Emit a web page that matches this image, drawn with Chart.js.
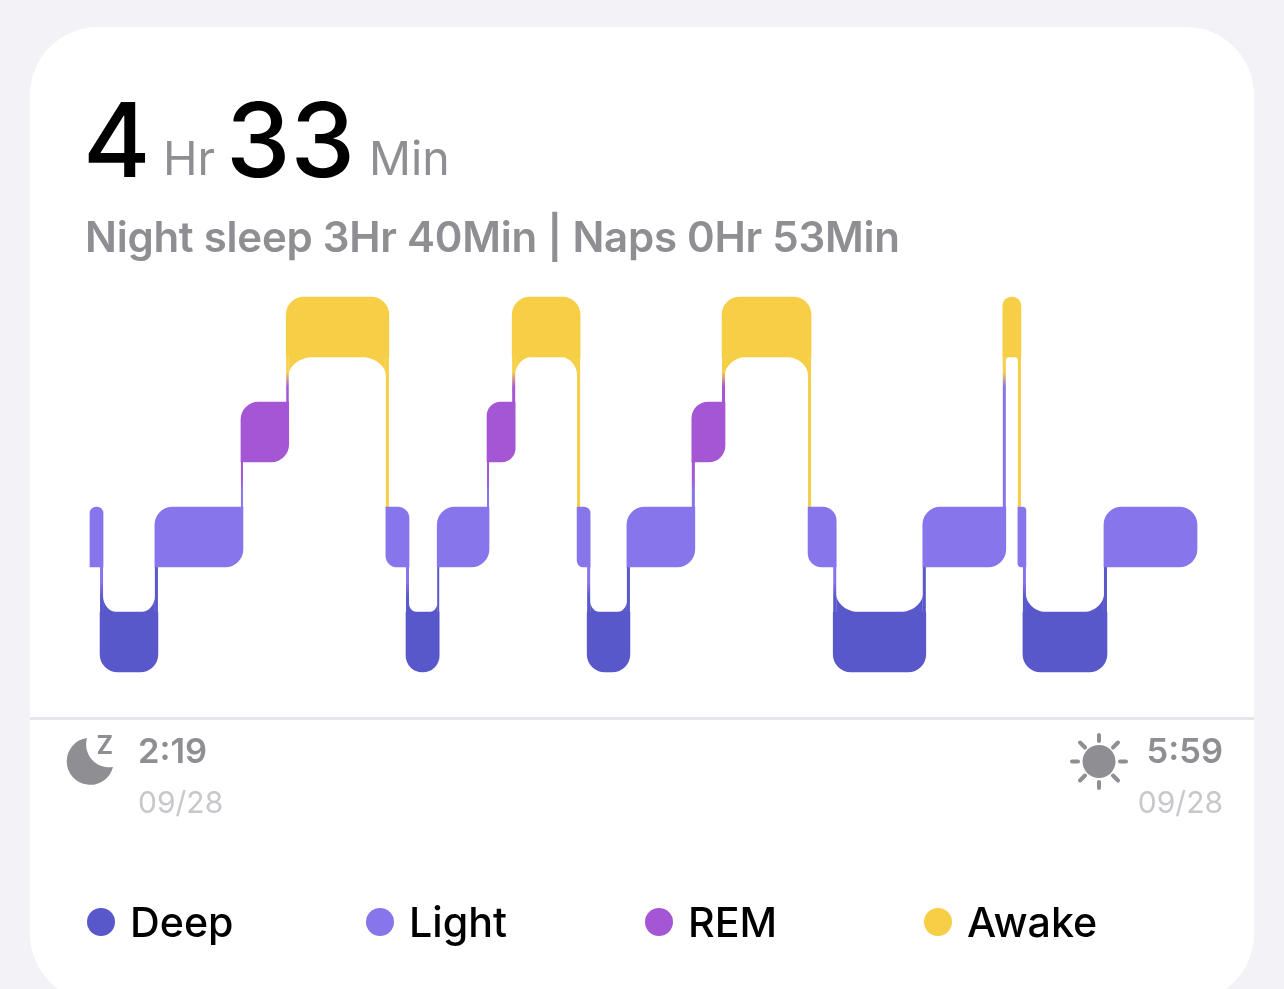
<!DOCTYPE html>
<html>
<head>
<meta charset="utf-8">
<script src="https://cdn.jsdelivr.net/npm/chart.js@4/dist/chart.umd.js"></script>
<style>
html, body { margin: 0; width: 1284px; height: 989px; overflow: hidden; background: #f2f2f7; font-family: Inter, "Noto Sans", sans-serif; }
#card { position: absolute; left: 30px; top: 27px; width: 1224px; height: 975px; background: #fff; border-radius: 68px; }
#chart { position: absolute; left: 30px; top: 0; }
.t { position: absolute; white-space: nowrap; line-height: 1; }
.big { font-size: 103px; font-weight: 500; color: #000; top: 88px; }
.unit { font-size: 46.5px; color: #8e8e93; top: 135px; }
#sub { left: 85px; top: 216px; font-size: 42px; font-weight: 600; color: #8e8e93; letter-spacing: -0.25px; }
.clock { font-size: 34.5px; font-weight: 600; color: #8e8e93; top: 734px; }
.date { font-size: 30px; color: #c7c7cc; top: 787px; }
.dot { position: absolute; top: 908px; width: 28px; height: 28px; border-radius: 50%; }
.lab { font-size: 41.200px; font-weight: 500; color: #000; top: 902px; }
svg { position: absolute; left: 0; top: 0; }
</style>
</head>
<body>
<div id="card"></div>
<canvas id="chart" width="1224" height="730"></canvas>

<div class="t big" style="left:83px">4</div>
<div class="t unit" style="left:163px">Hr</div>
<div class="t big" style="left:226px">33</div>
<div class="t unit" style="left:369px">Min</div>
<div class="t" id="sub">Night sleep 3Hr 40Min | Naps 0Hr 53Min</div>

<svg width="1284" height="989">
  <path d="M87 738A23.500 23.500 0 1 0 113 767A23 23 0 0 1 87 738Z" fill="#8e8e93"/>
  <text x="96.500" y="754" font-family="Inter" font-size="25" font-weight="700" fill="#8e8e93">Z</text>
  <circle cx="1099" cy="761.500" r="16.500" fill="#8e8e93"/>
  <g stroke="#8e8e93" stroke-width="4" stroke-linecap="round">
    <path d="M1099 735V741M1099 782V788M1072 761.500H1078M1120 761.500H1126M1080 742.500L1085 747.500M1113 775.500L1118 780.500M1118 742.500L1113 747.500M1085 775.500L1080 780.500"/>
  </g>
</svg>

<div class="t clock" style="left:138px">2:19</div>
<div class="t date" style="left:138px">09/28</div>
<div class="t clock" style="right:61px">5:59</div>
<div class="t date" style="right:61px">09/28</div>

<div id="legend"></div>

<script>
// minutes after falling asleep at 2:19
var totalMinutes = 220;

var stageNames = ['Awake', 'REM', 'Light', 'Deep'];
var stageColors = ['#f6cf47', '#a556d4', '#8775ec', '#5858cb'];

var awakeStart = [39.0, 83.9, 125.6, 181.4];
var awakeEnd = [59.4, 97.4, 143.3, 185.0];
var remStart = [30.0, 78.9, 119.6];
var remEnd = [39.5, 84.5, 126.2];
var lightStart = [0, 12.9, 58.8, 69.0, 96.8, 106.7, 142.7, 165.5, 184.4, 201.5];
var lightEnd = [2.6, 30.4, 63.4, 79.3, 99.4, 120.2, 148.3, 182.0, 186.0, 220.0];
var deepStart = [2.0, 62.8, 98.8, 147.7, 185.4];
var deepEnd = [13.5, 69.4, 107.3, 166.1, 202.1];

var starts = [awakeStart, remStart, lightStart, deepStart];
var ends = [awakeEnd, remEnd, lightEnd, deepEnd];

var barHeight = 60;
var cornerRadius = 18;

// all blocks in time order, each one knows its neighbours
var blocks = [];
starts.forEach(function (list, level) {
    list.forEach(function (s, i) {
        blocks.push({ x: [s, ends[level][i]], y: level });
    });
});
blocks.sort(function (a, b) { return a.x[0] - b.x[0]; });
blocks.forEach(function (b, i) {
    b.prev = blocks[i - 1];
    b.next = blocks[i + 1];
});

function blockRadius(ctx) {
    var b = ctx.raw;
    if (!b) return 0;
    var r = cornerRadius;
    var corners = { topLeft: r, topRight: r, bottomLeft: r, bottomRight: r };
    if (b.prev) {
        if (b.prev.y > b.y) corners.bottomLeft = 0; else corners.topLeft = 0;
    } else {
        corners.bottomLeft = 0;
    }
    if (b.next) {
        if (b.next.y > b.y) corners.bottomRight = 0; else corners.topRight = 0;
    }
    return corners;
}

// thin joins between levels and the scooped corners inside awake and deep blocks
var connectors = {
    id: 'connectors',
    beforeDatasetsDraw: function (chart) {
        var c = chart.ctx, xs = chart.scales.x, ys = chart.scales.y;
        var half = barHeight / 2;

        blocks.forEach(function (b) {
            if (!b.next) return;
            var n = b.next;
            var left = xs.getPixelForValue(n.x[0]);
            var right = xs.getPixelForValue(b.x[1]);
            var down = n.y > b.y;
            var top = ys.getPixelForValue(Math.min(b.y, n.y)) + half;
            var bottom = ys.getPixelForValue(Math.max(b.y, n.y)) - half;
            var from = stageColors[b.y], to = stageColors[n.y];

            if (stageNames[n.y] === 'Light' && stageNames[b.y] !== 'REM') {
                c.fillStyle = from;
            } else {
                var span = bottom - top;
                var g = c.createLinearGradient(0, down ? top : bottom, 0, down ? bottom : top);
                g.addColorStop(0, from);
                g.addColorStop(Math.max(0, 1 - 30 / span), from);
                g.addColorStop(1 - 15 / span, to);
                g.addColorStop(1, to);
                c.fillStyle = g;
            }
            c.fillRect(left, top, right - left, bottom - top);
        });

        var k = 0.45;
        blocks.forEach(function (b) {
            var name = stageNames[b.y];
            if (name !== 'Awake' && name !== 'Deep') return;
            var xl = xs.getPixelForValue(b.prev.x[1]);
            var xr = xs.getPixelForValue(b.next.x[0]);
            var rx = (xr - xl) * 0.25;
            if (rx > 24) rx = 24;
            var ry = Math.min(18, rx * 1.2);
            var edge = ys.getPixelForValue(b.y) + (name === 'Awake' ? half : -half);
            var dir = name === 'Awake' ? 1 : -1;
            c.fillStyle = stageColors[b.y];
            c.beginPath();
            c.moveTo(xl, edge - dir);
            c.lineTo(xl, edge + dir * ry);
            c.bezierCurveTo(xl, edge + dir * ry * k, xl + rx * (1 - k), edge, xl + rx, edge);
            c.lineTo(xr - rx, edge);
            c.bezierCurveTo(xr - rx * (1 - k), edge, xr, edge + dir * ry * k, xr, edge + dir * ry);
            c.lineTo(xr, edge - dir);
            c.closePath();
            c.fill();
        });
    }
};

new Chart(document.getElementById('chart').getContext('2d'), {
    type: 'bar',
    data: {
        datasets: stageNames.map(function (name, level) {
            return {
                label: name,
                data: blocks.filter(function (b) { return b.y === level; }),
                backgroundColor: stageColors[level],
                borderWidth: 0,
                borderSkipped: false,
                borderRadius: blockRadius,
                barThickness: barHeight,
                grouped: false
            };
        })
    },
    plugins: [connectors],
    options: {
        indexAxis: 'y',
        responsive: false,
        animation: false,
        layout: { padding: { top: 272, bottom: 4, left: 0, right: 0 } },
        plugins: { legend: { display: false }, tooltip: { enabled: false } },
        scales: {
            x: {
                type: 'linear',
                min: -11.92,
                max: totalMinutes + 11.32,
                grid: { display: false },
                ticks: { display: false },
                border: { display: true, color: '#e5e5ea', width: 3 }
            },
            y: {
                type: 'linear',
                display: false,
                offset: false,
                reverse: true,
                min: -0.5238,
                max: 3.7238
            }
        }
    }
});

// legend, deep first like the app shows it
var legendOrder = [3, 2, 1, 0];
var legend = document.getElementById('legend');
legendOrder.forEach(function (level, i) {
    var dot = document.createElement('div');
    dot.className = 'dot';
    dot.style.left = (87 + i * 279) + 'px';
    dot.style.background = stageColors[level];
    legend.appendChild(dot);
    var lab = document.createElement('div');
    lab.className = 't lab';
    lab.style.left = (130 + i * 279) + 'px';
    lab.textContent = stageNames[level];
    legend.appendChild(lab);
});
</script>
</body>
</html>
